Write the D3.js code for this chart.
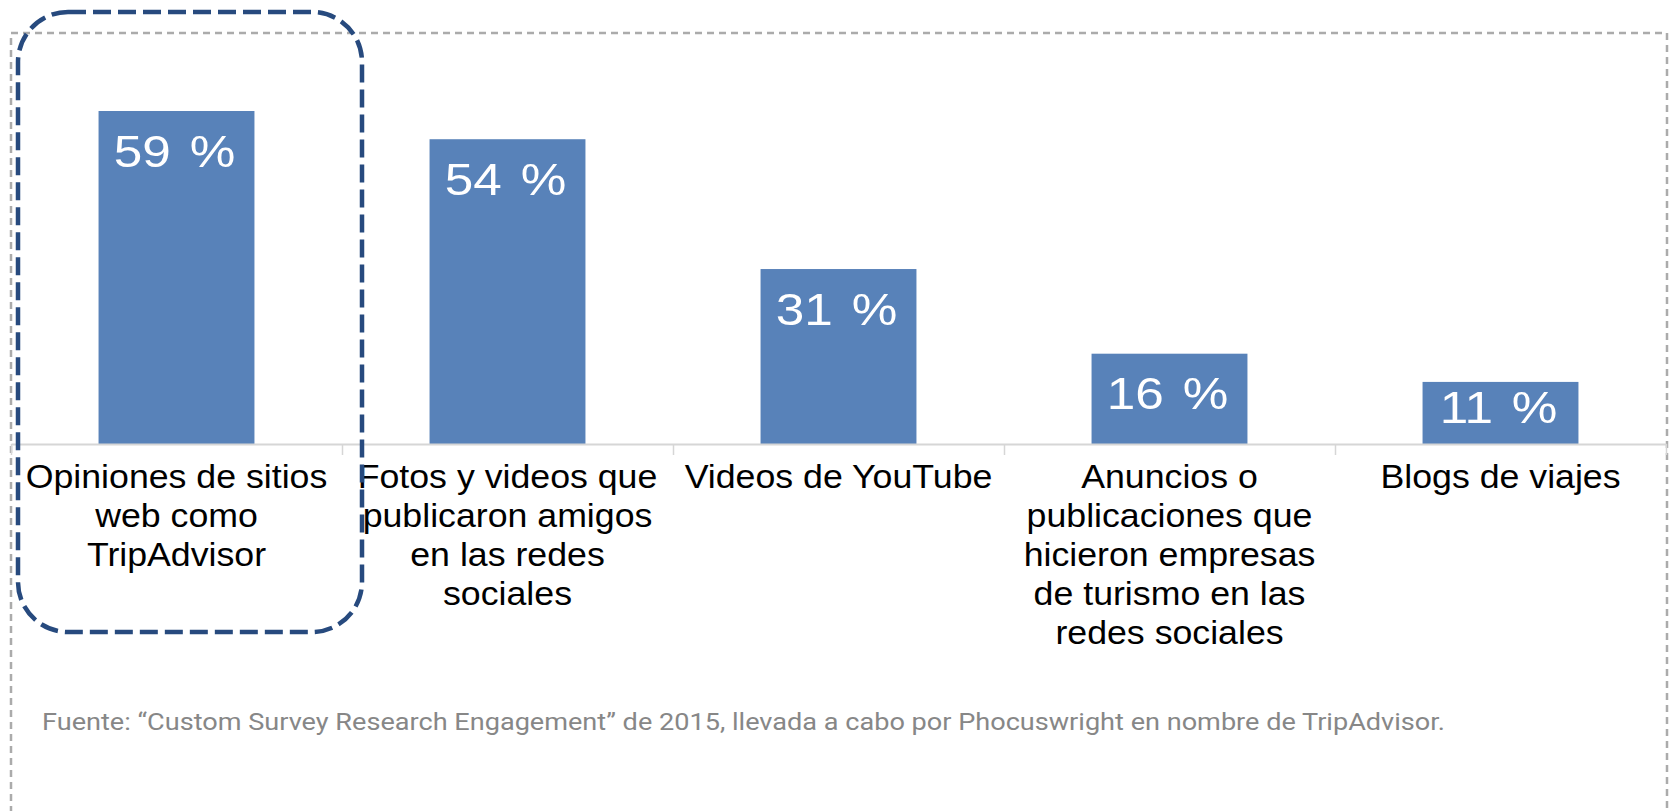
<!DOCTYPE html>
<html>
<head>
<meta charset="utf-8">
<script src="https://cdn.jsdelivr.net/npm/d3@7"></script>
<style>
  html, body { margin: 0; padding: 0; background: #fff; overflow: hidden; }
  svg { display: block; }
</style>
</head>
<body>
<svg id="chart" width="1669" height="811"></svg>
<script>
// ---- data ----
const categories = [
  "Opiniones de sitios\nweb como\nTripAdvisor",
  "Fotos y videos que\npublicaron amigos\nen las redes\nsociales",
  "Videos de YouTube",
  "Anuncios o\npublicaciones que\nhicieron empresas\nde turismo en las\nredes sociales",
  "Blogs de viajes"
];
const values = [59, 54, 31, 16, 11];
const valueLabels = ["59 %", "54 %", "31 %", "16 %", "11 %"];
const sourceNote = "Fuente: \u201cCustom Survey Research Engagement\u201d de 2015, llevada a cabo por Phocuswright en nombre de TripAdvisor.";

// ---- layout ----
const plotLeft = 11, plotRight = 1666, baseY = 444, topY = 111;
const svg = d3.select("#chart");

// outer dotted border
svg.append("rect")
  .attr("x", 11).attr("y", 33)
  .attr("width", 1667 - 11).attr("height", 900)
  .attr("fill", "none")
  .attr("stroke", "#ababab")
  .attr("stroke-width", 2.5)
  .attr("stroke-dasharray", "7 5");

const x = d3.scaleBand()
  .domain(d3.range(categories.length))
  .range([plotLeft, plotRight])
  .paddingInner(0.529)
  .paddingOuter(0.2645);

const y = d3.scaleLinear()
  .domain([0, d3.max(values)])
  .range([baseY, topY]);

// bars
svg.append("g").selectAll("rect")
  .data(values)
  .join("rect")
  .attr("x", (d, i) => x(i))
  .attr("y", d => y(d))
  .attr("width", x.bandwidth())
  .attr("height", d => y(0) - y(d))
  .attr("fill", "#5882b9");

// value labels
const fsVal = 45;
svg.append("g").selectAll("text")
  .data(values)
  .join("text")
  .attr("transform", (d, i) => {
    const top = y(d);
    const cy = Math.min(top + 40, (top + y(0)) / 2 - 6);
    const cx = x(i) + x.bandwidth() / 2 - 2;
    return `translate(${cx},${cy + fsVal * 0.358}) scale(1.14,1)`;
  })
  .attr("text-anchor", "middle")
  .attr("font-family", "'Liberation Sans', Arial, sans-serif")
  .attr("font-size", fsVal)
  .attr("word-spacing", 4)
  .attr("fill", "#ffffff")
  .text((d, i) => valueLabels[i]);

// axis line with boundary ticks
const bounds = d3.scaleLinear().domain([0, categories.length]).range([plotLeft, plotRight]);
const axisG = svg.append("g")
  .attr("transform", `translate(0,${baseY})`)
  .call(d3.axisBottom(bounds)
    .tickValues(d3.range(categories.length + 1))
    .tickFormat("")
    .tickSizeInner(11)
    .tickSizeOuter(0));
axisG.select(".domain").attr("stroke", "#d6d6d6").attr("stroke-width", 2);
axisG.selectAll(".tick line").attr("stroke", "#d6d6d6").attr("stroke-width", 1.5);

// category labels
const fsCat = 34, lineH = 39;
const catG = svg.append("g");
categories.forEach((c, i) => {
  const cx = x(i) + x.bandwidth() / 2;
  const t = catG.append("text")
    .attr("transform", `translate(${cx},488) scale(1.05,1)`)
    .attr("text-anchor", "middle")
    .attr("font-family", "'Liberation Sans', Arial, sans-serif")
    .attr("font-size", fsCat)
    .attr("fill", "#000");
  c.split("\n").forEach((line, j) => {
    t.append("tspan").attr("x", 0).attr("y", j * lineH).text(line);
  });
});

// highlight dashed rounded rectangle
svg.append("rect")
  .attr("x", 18).attr("y", 12)
  .attr("width", 362 - 18).attr("height", 632 - 12)
  .attr("rx", 50).attr("ry", 50)
  .attr("fill", "none")
  .attr("stroke", "#274a7e")
  .attr("stroke-width", 4.5)
  .attr("stroke-dasharray", "18 7");

// source note
svg.append("text")
  .attr("x", 42).attr("y", 730)
  .attr("font-family", "Roboto, 'Noto Sans', sans-serif")
  .attr("font-size", 24)
  .attr("fill", "#878787")
  .attr("textLength", 1403)
  .attr("lengthAdjust", "spacingAndGlyphs")
  .text(sourceNote);
</script>
</body>
</html>
